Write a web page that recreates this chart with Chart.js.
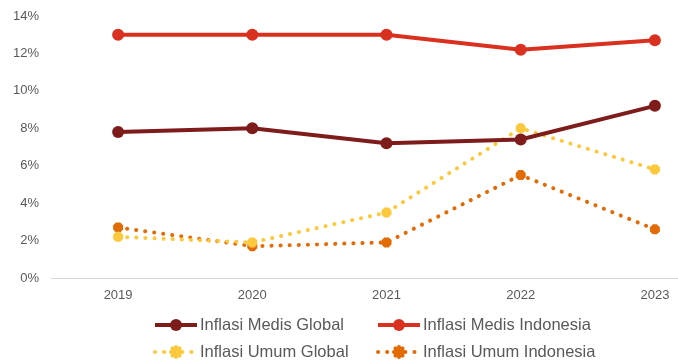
<!DOCTYPE html>
<html>
<head>
<meta charset="utf-8">
<script src="https://cdn.jsdelivr.net/npm/chart.js@4/dist/chart.umd.min.js"></script>
<style>
  html, body { margin: 0; padding: 0; background: #fff; overflow: hidden; }
  #wrap { width: 678px; height: 362px; overflow: hidden; position: relative; }
  #box { width: 731px; height: 362px; position: absolute; left: 0; top: 0; }
</style>
</head>
<body>
<div id="wrap"><div id="box"><canvas id="c"></canvas></div></div>
<script>
// Inflation rates (%) by year
const years = ['2019', '2020', '2021', '2022', '2023'];
const medisGlobal = [7.8, 8.0, 7.2, 7.4, 9.2];
const medisIndonesia = [13.0, 13.0, 13.0, 12.2, 12.7];
const umumGlobal = [2.2, 1.9, 3.5, 8.0, 5.8];
const umumIndonesia = [2.7, 1.7, 1.9, 5.5, 2.6];
const yTicks = [0, 2, 4, 6, 8, 10, 12, 14];

const TEXT = '#595959';
const FONT = '"Liberation Sans", Arial, sans-serif';

function solid(label, data, color) {
  return {
    label, data,
    borderColor: color, backgroundColor: color,
    borderWidth: 4, pointRadius: 6, pointHoverRadius: 6,
    pointStyle: 'circle', pointBorderWidth: 0,
    tension: 0, kind: 'solid'
  };
}
function dotted(label, data, color) {
  return {
    label, data,
    borderColor: color, backgroundColor: color,
    borderWidth: 4, borderDash: [0.1, 9], borderCapStyle: 'round',
    pointRadius: 5, pointHoverRadius: 5,
    pointStyle: 'star', pointBorderWidth: 4, pointBorderColor: color,
    tension: 0, kind: 'dotted'
  };
}

// Two-column legend under the plot: line sample with marker, then label
const legendPlugin = {
  id: 'gridLegend',
  afterDraw(chart) {
    const ctx = chart.ctx;
    const cols = [155, 378];
    const rows = [325, 352];
    ctx.save();
    ctx.font = '16.5px ' + FONT;
    ctx.textBaseline = 'middle';
    chart.data.datasets.forEach((ds, i) => {
      const x = cols[i % 2], y = rows[Math.floor(i / 2)];
      const len = 42;
      ctx.strokeStyle = ds.borderColor;
      ctx.fillStyle = ds.borderColor;
      ctx.lineWidth = 4;
      ctx.lineCap = ds.kind === 'dotted' ? 'round' : 'butt';
      ctx.setLineDash(ds.kind === 'dotted' ? [0.1, 9] : []);
      ctx.beginPath();
      ctx.moveTo(x, y);
      ctx.lineTo(x + len, y);
      ctx.stroke();
      ctx.setLineDash([]);
      Chart.helpers.drawPoint(ctx, {
        pointStyle: ds.pointStyle, radius: ds.pointRadius,
        borderWidth: ds.kind === 'dotted' ? 4 : 0, rotation: 0
      }, x + len / 2, y);
      ctx.fillStyle = TEXT;
      ctx.fillText(ds.label, x + len + 3, y);
    });
    ctx.restore();
  }
};

new Chart(document.getElementById('c'), {
  type: 'line',
  data: {
    labels: years,
    datasets: [
      solid('Inflasi Medis Global', medisGlobal, '#7e1b1b'),
      solid('Inflasi Medis Indonesia', medisIndonesia, '#d9301f'),
      dotted('Inflasi Umum Global', umumGlobal, '#fcc83c'),
      dotted('Inflasi Umum Indonesia', umumIndonesia, '#e26b05')
    ]
  },
  options: {
    responsive: true,
    maintainAspectRatio: false,
    animation: false,
    layout: { padding: { top: 16, right: 0, bottom: 60, left: 0 } },
    plugins: { legend: { display: false }, tooltip: { enabled: false } },
    scales: {
      x: {
        offset: true,
        grid: { display: false, drawTicks: false },
        border: { display: true, color: '#d9d9d9', width: 1 },
        ticks: { color: TEXT, font: { family: FONT, size: 13 }, padding: 10 },
        afterFit(s) { s.height = 24; }
      },
      y: {
        min: 0, max: 14,
        afterBuildTicks(s) { s.ticks = yTicks.map(v => ({ value: v })); },
        grid: { display: false, drawTicks: false },
        border: { display: false },
        ticks: {
          color: TEXT, font: { family: FONT, size: 13 }, padding: 12,
          callback: v => v + '%'
        },
        afterFit(s) { s.width = 51; s.paddingTop = 0; }
      }
    }
  },
  plugins: [legendPlugin]
});
</script>
</body>
</html>
